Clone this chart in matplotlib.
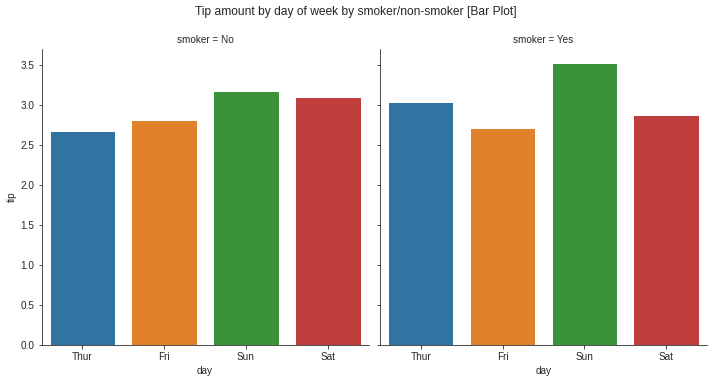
import matplotlib
matplotlib.use("Agg")
import matplotlib.pyplot as plt
import seaborn as sns

sns.set_style("ticks")
plt.rcParams['font.family'] = ['Liberation Sans', 'DejaVu Sans']

# mean tip per day, from the tips dataset
days = ["Thur", "Fri", "Sun", "Sat"]
tip_no = [2.673778, 2.8125, 3.167895, 3.102889]
tip_yes = [3.030, 2.714, 3.516842, 2.875472]
colors = ["#3274a1", "#e1812c", "#3a923a", "#c03d3e"]

fig, axes = plt.subplots(1, 2, figsize=(712 / 72, 381 / 72), dpi=72, sharey=True)
fig.subplots_adjust(left=0.0583, right=0.993, bottom=0.0945, top=0.872, wspace=0.034)

for ax, vals, title in zip(axes, [tip_no, tip_yes], ["smoker = No", "smoker = Yes"]):
    ax.bar(days, vals, width=0.8, color=colors)
    ax.set_xlim(-0.5, 3.5)
    ax.set_title(title, fontsize=10)
    ax.set_xlabel("day", fontsize=10)
    ax.tick_params(labelsize=10)
    sns.despine(ax=ax)

axes[0].set_ylabel("tip", fontsize=10)
axes[0].set_ylim(0, 3.7)
axes[0].set_yticks([0, 0.5, 1.0, 1.5, 2.0, 2.5, 3.0, 3.5])

fig.suptitle("Tip amount by day of week by smoker/non-smoker [Bar Plot]", fontsize=12, y=0.985)

fig.savefig("out.png", dpi=72)
